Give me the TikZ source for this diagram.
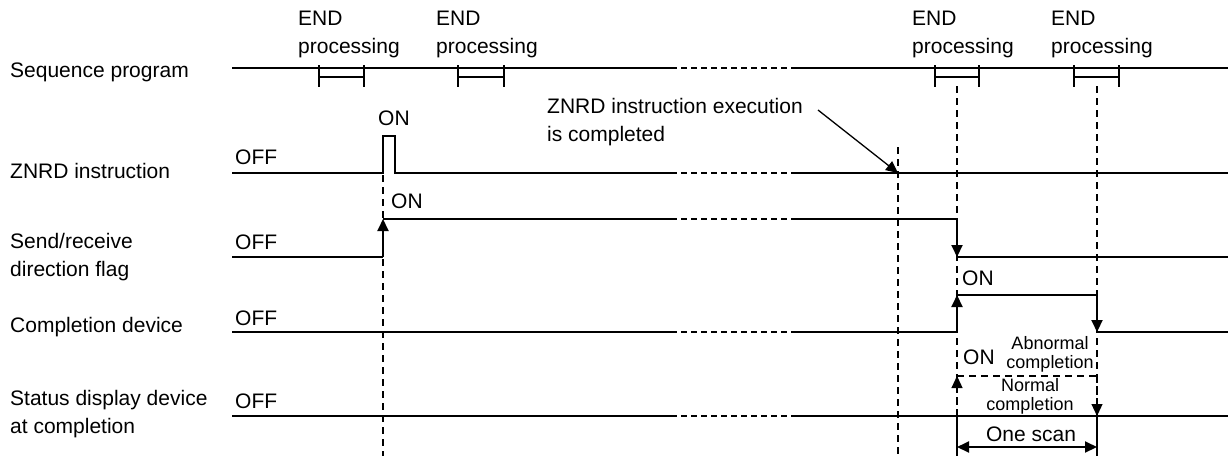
\documentclass[tikz,border=0pt]{standalone}
\usepackage{fontspec}
\setmainfont{Liberation Sans}
\usetikzlibrary{arrows.meta}
\begin{document}
\begin{tikzpicture}[x=1pt,y=-1pt,
  sig/.style={line width=2pt},
  brk/.style={line width=1.3pt, dash pattern=on 6pt off 4pt},
  guide/.style={line width=1.2pt, dash pattern=on 7pt off 5pt},
  lbl/.style={font=\fontsize{21}{28}\selectfont, inner sep=0pt, align=left, anchor=base west},
  sml/.style={font=\fontsize{18}{19}\selectfont, inner sep=0pt, align=center, anchor=base},
  tip/.style={-{Triangle[length=12pt,width=11pt]}},
  dtip/.style={{Triangle[length=12pt,width=11pt]}-{Triangle[length=12pt,width=11pt]}}
]
\useasboundingbox (0,0) rectangle (1228,456);

% ---- left labels (base = last line's baseline)
\node[lbl] (lseq) at (10,77) {Sequence program};
\node[lbl] (lznrd) at (10,178) {ZNRD instruction};
\node[lbl] (lsr) at (10,276) {Send/receive\\direction flag};
\node[lbl] (lcd) at (10,332) {Completion device};
\node[lbl] (lsd) at (10,433) {Status display device\\at completion};

% ---- OFF labels
\node[lbl] (off1) at (235,164) {OFF};
\node[lbl] (off2) at (235,249) {OFF};
\node[lbl] (off3) at (235,325) {OFF};
\node[lbl] (off4) at (235,408) {OFF};

% ---- END processing labels
\node[lbl] (end1) at (298,53) {END\\processing};
\node[lbl] (end2) at (436,53) {END\\processing};
\node[lbl] (end3) at (912,53) {END\\processing};
\node[lbl] (end4) at (1051,53) {END\\processing};

% ---- guide dashed verticals
\coordinate (g1t) at (383,175); \coordinate (g1b) at (383,456);
\coordinate (g2t) at (898,147); \coordinate (g2b) at (898,456);
\coordinate (g3t) at (957,86);  \coordinate (g3b) at (957,456);
\coordinate (g4t) at (1097,86); \coordinate (g4b) at (1097,456);
\draw[guide] (g1t) -- (g1b);
\draw[guide] (g2t) -- (g2b);
\draw[guide] (g3t) -- (g3b);
\draw[guide] (g4t) -- (g4b);

% ---- sequence program line
\draw[sig] (232,68) -- (671,68);
\draw[brk] (671,68) -- (792,68);
\draw[sig] (792,68) -- (1228,68);
\foreach \a/\b in {319/364,458/504,935/979,1074/1119}{
  \draw[sig] (\a,65) -- (\a,87) (\b,65) -- (\b,87) (\a,77) -- (\b,77);
}

% ---- ZNRD instruction
\draw[sig] (232,173) -- (383,173) -- (383,136) -- (395,136) -- (395,173) -- (671,173);
\draw[brk] (671,173) -- (792,173);
\draw[sig] (792,173) -- (1228,173);
\node[lbl] (on1) at (378,125) {ON};

% ---- Send/receive direction flag
\draw[sig] (232,257) -- (383,257);
\draw[sig,tip] (383,257) -- (383,219);
\draw[sig] (383,219) -- (671,219);
\draw[brk] (671,219) -- (792,219);
\draw[sig] (792,219) -- (957,219);
\draw[sig,tip] (957,219) -- (957,257);
\draw[sig] (957,257) -- (1228,257);
\node[lbl] (on2) at (391,208) {ON};

% ---- Completion device
\draw[sig] (232,332) -- (671,332);
\draw[brk] (671,332) -- (792,332);
\draw[sig] (792,332) -- (957,332);
\draw[sig,tip] (957,332) -- (957,295);
\draw[sig] (957,295) -- (1097,295);
\draw[sig,tip] (1097,295) -- (1097,332);
\draw[sig] (1097,332) -- (1228,332);
\node[lbl] (on3) at (962,285) {ON};

% ---- Status display device
\draw[sig] (232,416) -- (671,416);
\draw[brk] (671,416) -- (792,416);
\draw[sig] (792,416) -- (1228,416);
\draw[guide,tip] (957,416) -- (957,376);
\draw[guide] (957,376) -- (1097,376);
\draw[guide,tip] (1097,376) -- (1097,416);
\node[lbl] (on4) at (963,364) {ON};
\node[sml] (abn) at (1050,368) {Abnormal\\completion};
\node[sml] (nor) at (1030,410) {Normal\\completion};

% ---- one scan
\draw[sig] (957,416) -- (957,456) (1097,416) -- (1097,456);
\coordinate (osl) at (957,447);
\coordinate (osr) at (1097,447);
\draw[sig,dtip] (osl) -- (osr);
\node[lbl,anchor=base] (onescan) at (1031,441) {One scan};

% ---- annotation
\node[lbl] (note) at (547,141) {ZNRD instruction execution\\is completed};
\coordinate (ns) at (818,110);
\coordinate (ne) at (898,173);
\draw[line width=1.3pt,tip] (ns) -- (ne);
\end{tikzpicture}
\end{document}
